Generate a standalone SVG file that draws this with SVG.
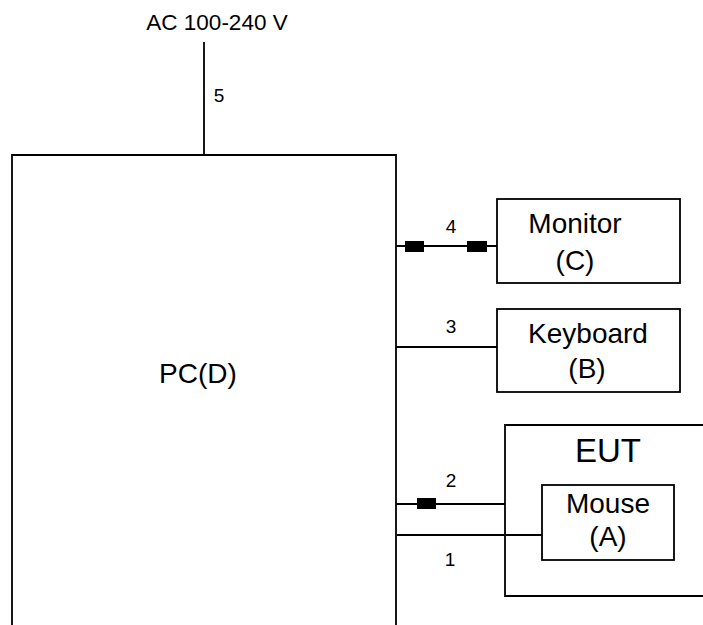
<svg xmlns="http://www.w3.org/2000/svg" width="703" height="625" viewBox="0 0 703 625">
<style>
.ln{stroke:#000;stroke-width:1.8;fill:none}
.bx{stroke:#000;stroke-width:1.8;fill:#fff}
.t{font-family:"Liberation Sans",Arial,sans-serif;fill:#000;text-anchor:middle}
.big{font-size:28px}
.num{font-size:19px}
.plug{fill:#000}
</style>
<rect width="703" height="625" fill="#fff"/>
<g id="pc">
<path class="ln" d="M12,626 V155 H396 V626"/>
<text class="t big" x="198" y="383">PC(D)</text>
</g>
<g id="power">
<text class="t" style="font-size:22.5px" x="217" y="30">AC 100-240 V</text>
</g>
<g id="monitor">
<rect class="bx" x="497" y="199" width="183" height="84"/>
<text class="t big" x="575" y="233">Monitor</text>
<text class="t big" x="575" y="270">(C)</text>
</g>
<g id="keyboard">
<rect class="bx" x="497" y="309" width="183" height="83"/>
<text class="t big" x="588" y="343">Keyboard</text>
<text class="t big" x="587" y="378">(B)</text>
</g>
<g id="eut">
<path class="ln" d="M704,425 H505 V596 H704"/>
<text class="t" style="font-size:33px" x="608" y="462">EUT</text>
</g>
<g id="mouse">
<rect class="bx" x="542" y="485" width="132" height="75"/>
<text class="t big" x="608" y="513">Mouse</text>
<text class="t big" x="608" y="546">(A)</text>
</g>
<g id="connectors">
<line class="ln" x1="204" y1="42" x2="204" y2="155"/>
<text class="t num" x="219" y="102">5</text>
<line class="ln" x1="396" y1="246" x2="497" y2="246"/>
<rect class="plug" x="405" y="241" width="19" height="11"/>
<rect class="plug" x="467" y="241" width="20" height="11"/>
<text class="t num" x="451" y="233">4</text>
<line class="ln" x1="396" y1="347" x2="497" y2="347"/>
<text class="t num" x="451" y="333">3</text>
<line class="ln" x1="396" y1="504" x2="505" y2="504"/>
<rect class="plug" x="417" y="498" width="19" height="11"/>
<text class="t num" x="451" y="487">2</text>
<line class="ln" x1="397" y1="535" x2="542" y2="535"/>
<text class="t num" x="450" y="566">1</text>
</g>
</svg>
